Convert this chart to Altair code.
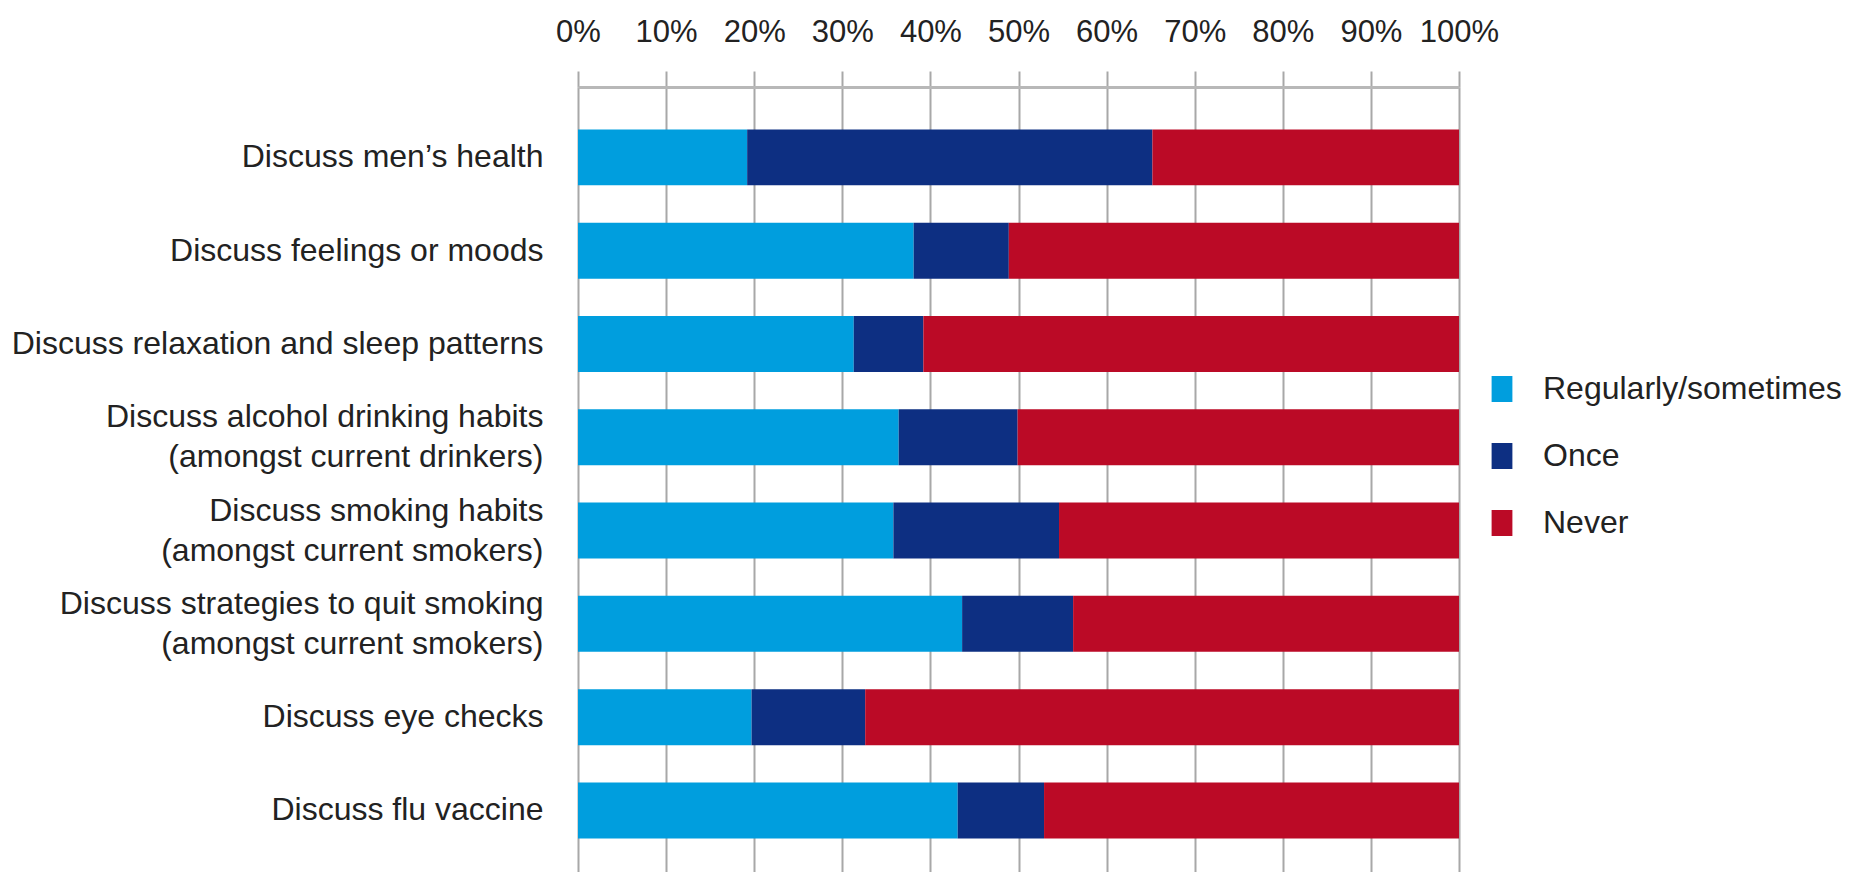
import altair as alt
import pandas as pd

categories = [
    "Discuss men\u2019s health",
    "Discuss feelings or moods",
    "Discuss relaxation and sleep patterns",
    "Discuss alcohol drinking habits\n(amongst current drinkers)",
    "Discuss smoking habits\n(amongst current smokers)",
    "Discuss strategies to quit smoking\n(amongst current smokers)",
    "Discuss eye checks",
    "Discuss flu vaccine",
]
regularly = [19.2, 38.1, 31.3, 36.4, 35.8, 43.6, 19.7, 43.1]
once = [46.0, 10.8, 7.9, 13.5, 18.8, 12.6, 12.9, 9.8]
never = [34.8, 51.1, 60.8, 50.1, 45.4, 43.8, 67.4, 47.1]

series = ["Regularly/sometimes", "Once", "Never"]
colors = ["#009ede", "#0d2f82", "#bb0a26"]
ticks = [0, 10, 20, 30, 40, 50, 60, 70, 80, 90, 100]

rows = []
for i, c in enumerate(categories):
    for k, (s, vals) in enumerate(zip(series, [regularly, once, never])):
        rows.append({"category": c, "series": s, "rank": k, "value": vals[i]})
df = pd.DataFrame(rows)

FONT = "Liberation Sans, Arial, sans-serif"

chart = (
    alt.Chart(df)
    .mark_bar(strokeWidth=0)
    .encode(
        x=alt.X(
            "value:Q",
            stack="zero",
            scale=alt.Scale(domain=[0, 100], nice=False),
            axis=alt.Axis(
                orient="top",
                values=ticks,
                labelExpr="datum.value + '%'",
                title=None,
                grid=True,
                gridColor="#a8a8a8",
                gridWidth=2,
                domain=True,
                domainColor="#b8b8b8",
                domainWidth=3,
                ticks=True,
                tickColor="#a8a8a8",
                tickWidth=2,
                tickSize=16,
                labelFont=FONT,
                labelFontSize=31,
                labelColor="#222222",
                labelPadding=30,
                labelBaseline="alphabetic",
                labelFlush=False,
                labelOverlap=False,
            ),
        ),
        y=alt.Y(
            "category:N",
            sort=categories,
            scale=alt.Scale(paddingInner=0.4, paddingOuter=0.407, align=0.558),
            axis=alt.Axis(
                title=None,
                domain=False,
                ticks=False,
                tickSize=0,
                grid=False,
                labelFont=FONT,
                labelFontSize=32,
                labelColor="#222222",
                labelPadding=35,
                labelLineHeight=40,
                labelLimit=0,
                labelBaseline="middle",
                labelOffset={
                    "condition": {"test": "indexof(datum.label, '\\n') >= 0", "value": -20},
                    "value": 0,
                },
                labelExpr="split(datum.label, '\\n')",
            ),
        ),
        color=alt.Color(
            "series:N",
            scale=alt.Scale(domain=series, range=colors),
            legend=alt.Legend(
                title=None,
                orient="none",
                legendX=908,
                legendY=286,
                symbolType="M-0.8,-1H0.8V1H-0.8Z",
                symbolSize=676,
                symbolStrokeWidth=0,
                labelFont=FONT,
                labelFontSize=32,
                labelColor="#222222",
                labelOffset=25,
                labelLimit=0,
                rowPadding=35,
                padding=0,
            ),
        ),
        order=alt.Order("rank:Q"),
    )
    .properties(
        width=881,
        height=785,
        autosize=alt.AutoSizeParams(type="none"),
        padding={"left": 578, "top": 87, "right": 395, "bottom": 0},
    )
    .configure_view(stroke=None)
)

chart.save("out.html", embed_options={"renderer": "svg", "actions": False})
